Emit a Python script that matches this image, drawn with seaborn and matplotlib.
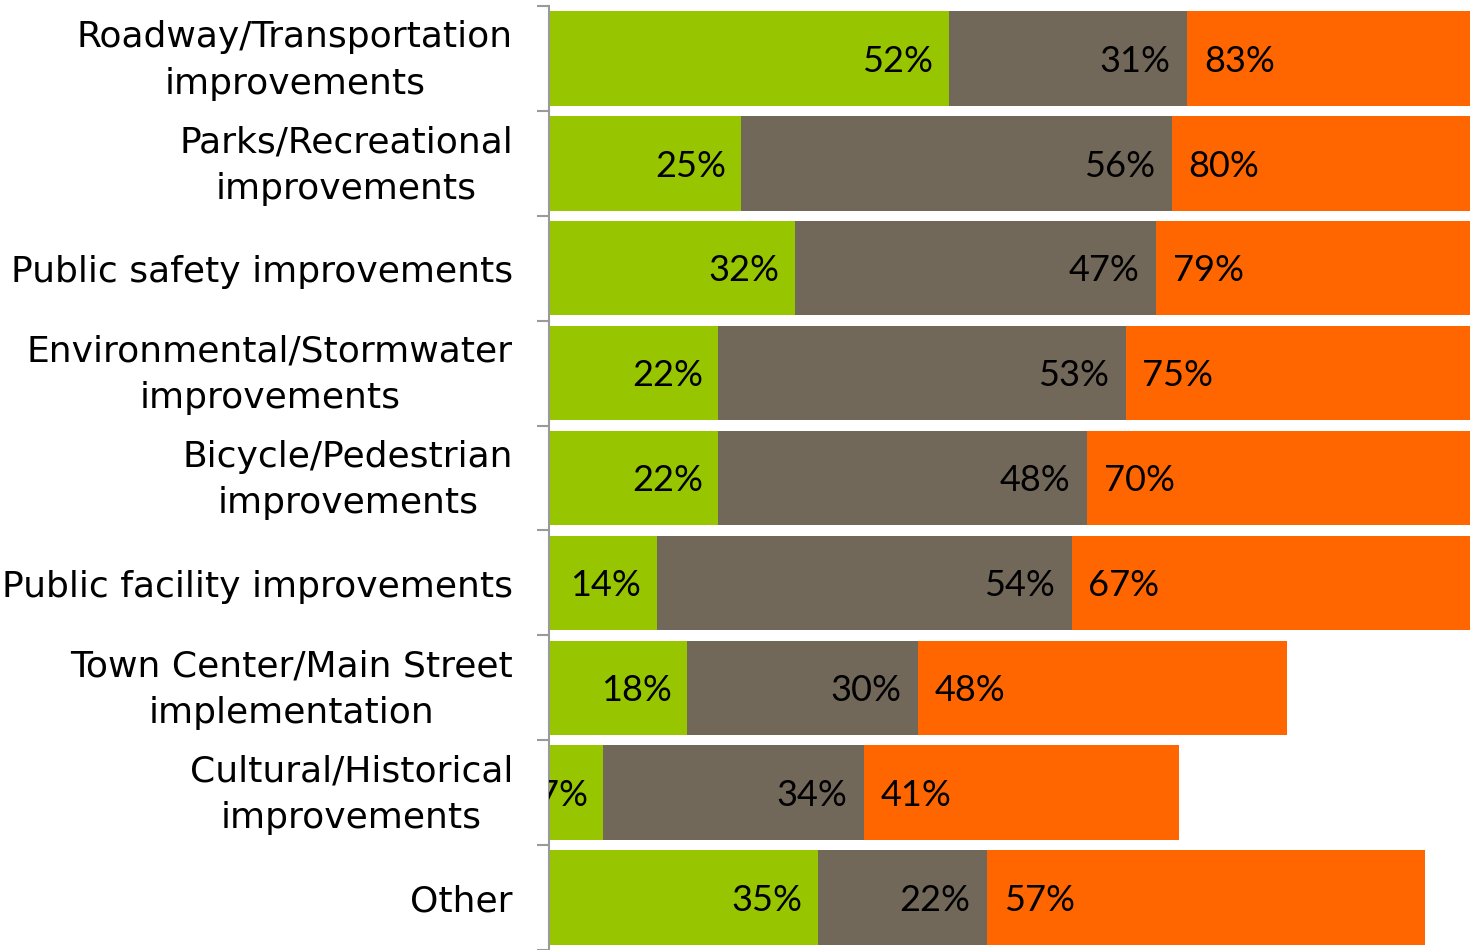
import matplotlib
matplotlib.use("Agg")
import matplotlib.pyplot as plt
import seaborn as sns
import pandas as pd
import numpy as np

categories = [
    "Roadway/Transportation\nimprovements",
    "Parks/Recreational\nimprovements",
    "Public safety improvements",
    "Environmental/Stormwater\nimprovements",
    "Bicycle/Pedestrian\nimprovements",
    "Public facility improvements",
    "Town Center/Main Street\nimplementation",
    "Cultural/Historical\nimprovements",
    "Other",
]
green_vals = [52, 25, 32, 22, 22, 14, 18, 7, 35]
gray_vals = [31, 56, 47, 53, 48, 54, 30, 34, 22]
total_vals = [83, 80, 79, 75, 70, 67, 48, 41, 57]

GREEN = "#97C600"
GRAY = "#72685A"
ORANGE = "#FF6600"

sns.set_theme(style="white")
plt.rcParams["font.family"] = ["Lato", "DejaVu Sans"]

df = pd.DataFrame({
    "cat": categories,
    "green": green_vals,
    "gray": gray_vals,
    "total": total_vals,
})
df["gray_end"] = df["green"] + df["gray"]
df["orange_end"] = df["gray_end"] + df["total"]

fig = plt.figure(figsize=(14.7, 9.5), dpi=100)
ax = fig.add_axes([0.3735, 0.0, 0.6265, 0.9937])

kw = dict(y="cat", orient="h", width=0.9, ax=ax, linewidth=0)
sns.barplot(data=df, x="orange_end", color=ORANGE, saturation=1, **kw)
sns.barplot(data=df, x="gray_end", color=GRAY, saturation=1, **kw)
sns.barplot(data=df, x="green", color=GREEN, saturation=1, **kw)

ax.set_xlim(0, 119.8)
ax.set_ylim(len(categories) - 0.5, -0.5)
ax.set_xlabel("")
ax.set_ylabel("")
ax.set_xticks([])

fs = 26
vdy = -2
for i, row in df.iterrows():
    t = ax.annotate(f"{row['green']}%", (row["green"], i), xytext=(-11, vdy),
                    textcoords="offset points", ha="right", va="center",
                    fontsize=fs, color="black", annotation_clip=False)
    t.set_clip_on(True)
    t.set_clip_path(ax.patch)
    ax.annotate(f"{row['gray']}%", (row["gray_end"], i), xytext=(-12, vdy),
                textcoords="offset points", ha="right", va="center",
                fontsize=fs, color="black")
    ax.annotate(f"{row['total']}%", (row["gray_end"], i), xytext=(12, vdy),
                textcoords="offset points", ha="left", va="center",
                fontsize=fs, color="black")

# category labels
ax.set_yticks(range(len(categories)))
ax.set_yticklabels([])
ylab_tr = ax.get_yaxis_transform()
for i, c in enumerate(categories):
    dy = -1.5 if "\n" in c else -3
    ax.annotate(c, (0, i), xycoords=ylab_tr, xytext=(-26, dy),
                textcoords="offset points", ha="right", va="center",
                multialignment="center", linespacing=1.46,
                fontsize=26, family=["DejaVu Sans"], color="black",
                annotation_clip=False)

for s in ["top", "right", "bottom"]:
    ax.spines[s].set_visible(False)
ax.spines["left"].set_color("#9A9A9A")
ax.spines["left"].set_linewidth(1.5)

ax.tick_params(axis="y", which="major", length=0)
ax.set_yticks(np.arange(-0.5, len(categories), 1.0), minor=True)
ax.tick_params(axis="y", which="minor", length=9, width=1.5, color="#9A9A9A", left=True)

fig.savefig("out.png", dpi=100)
